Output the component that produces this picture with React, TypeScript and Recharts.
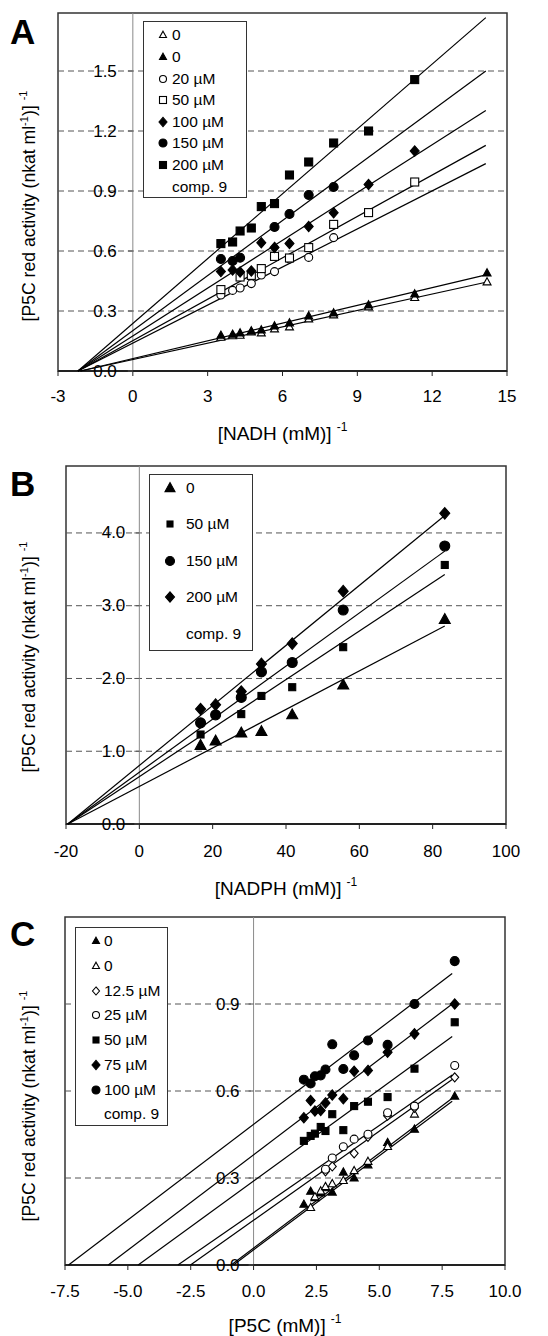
import React from "react"
import { ComposedChart, Scatter, XAxis, YAxis, ReferenceLine, ReferenceArea, ReferenceDot } from "recharts"

const FONT = "'Liberation Sans', Arial, Helvetica, sans-serif"

// ---------- panel A : 1/[NADH]
const nadhInv = [3.53, 4.0, 4.3, 4.75, 5.15, 5.68, 6.28, 7.05, 8.05, 9.45, 11.3, 14.2]
const aOpen0 = [0.168, 0.176, 0.178, 0.195, 0.19, 0.21, 0.22, 0.26, 0.28, 0.32, 0.367, 0.445]
const aFilled0 = [0.178, 0.183, 0.19, 0.2, 0.205, 0.225, 0.24, 0.275, 0.29, 0.33, 0.385, 0.49]
const a20 = [0.38, 0.403, 0.415, 0.437, 0.48, 0.497, 0.56, 0.568, 0.667, null, null, null]
const a50 = [0.407, null, 0.47, 0.478, 0.512, 0.573, 0.565, 0.617, 0.733, 0.792, 0.945, null]
const a100 = [0.497, 0.505, 0.495, 0.5, 0.641, 0.618, 0.637, 0.722, 0.791, 0.932, 1.1, null]
const a150 = [0.56, 0.55, 0.566, null, null, 0.72, 0.785, 0.88, 0.92, null, null, null]
const a200 = [0.637, 0.645, 0.7, 0.715, 0.822, 0.837, 0.98, 1.045, 1.14, 1.2, 1.457, null]
// fitted lines: [x0, y0, x1, y1]
const aFits = [
  [-2.1, 0, 14.2, 0.445],
  [-2.1, 0, 14.2, 0.482],
  [-2.2, 0, 14.15, 1.037],
  [-2.2, 0, 14.15, 1.128],
  [-2.2, 0, 14.15, 1.303],
  [-2.2, 0, 14.15, 1.5],
  [-2.2, 0, 14.15, 1.767],
]
const aXTicks = [-3, 0, 3, 6, 9, 12, 15]
const aYTicks = [0, 0.3, 0.6, 0.9, 1.2, 1.5]
const aLegend = ["0", "0", "20 µM", "50 µM", "100 µM", "150 µM", "200 µM", "comp. 9"]

// ---------- panel B : 1/[NADPH]
const nadphInv = [16.7, 20.8, 27.8, 33.3, 41.7, 55.6, 83.3]
const b0 = [1.08, 1.14, 1.25, 1.27, 1.5, 1.91, 2.81]
const b50 = [1.23, null, 1.51, 1.76, 1.88, 2.43, 3.56]
const b150 = [1.39, 1.5, 1.74, 2.09, 2.22, 2.94, 3.82]
const b200 = [1.58, 1.64, 1.82, 2.2, 2.48, 3.2, 4.27]
const bFits = [
  [-19.5, 0, 83.3, 2.72],
  [-19.5, 0, 83.3, 3.43],
  [-19.5, 0, 83.3, 3.75],
  [-19.5, 0, 83.3, 4.24],
]
const bXTicks = [-20, 0, 20, 40, 60, 80, 100]
const bYTicks = [0, 1, 2, 3, 4]
const bLegend = ["0", "50 µM", "150 µM", "200 µM", "comp. 9"]

// ---------- panel C : 1/[P5C]
const p5cInv = [2.0, 2.27, 2.44, 2.67, 2.86, 3.13, 3.57, 4.0, 4.55, 5.33, 6.4, 8.0]
const cFilled0 = [0.209, 0.254, 0.232, 0.248, 0.266, 0.251, 0.32, 0.3, 0.345, 0.422, 0.468, 0.582]
const cOpen0 = [null, 0.198, 0.235, 0.255, 0.27, 0.28, 0.291, 0.325, 0.357, 0.408, 0.52, null]
const c12 = [null, null, null, null, 0.323, 0.34, null, 0.385, 0.442, 0.515, 0.542, 0.647]
const c25 = [null, null, null, null, 0.33, 0.369, 0.408, 0.434, 0.451, 0.525, 0.548, 0.688]
const c50 = [0.428, 0.445, 0.453, 0.476, 0.462, 0.52, 0.465, 0.548, 0.563, 0.579, 0.677, 0.837]
const c75 = [0.508, 0.567, 0.531, 0.533, 0.559, 0.586, 0.573, 0.668, 0.671, 0.734, 0.797, 0.9]
const c100 = [0.639, 0.626, 0.651, 0.654, 0.674, 0.761, 0.676, 0.723, 0.774, 0.759, 0.9, 1.048]
const cFits = [
  [-0.89, 0, 7.9, 0.575],
  [-0.8, 0, 7.9, 0.565],
  [-2.51, 0, 7.9, 0.64],
  [-3.01, 0, 7.9, 0.655],
  [-4.59, 0, 7.9, 0.788],
  [-5.78, 0, 7.9, 0.9],
  [-7.36, 0, 7.9, 1.005],
]
const cXTicks = [-7.5, -5, -2.5, 0, 2.5, 5, 7.5, 10]
const cYTicks = [0, 0.3, 0.6, 0.9]
const cLegend = ["0", "0", "12.5 µM", "25 µM", "50 µM", "75 µM", "100 µM", "comp. 9"]

type Kind = "tri" | "circle" | "square" | "diamond"
interface Series { kind: Kind; filled: boolean; size: number; values: (number | null)[] }

function Marker({ cx, cy, kind, filled, size }: { cx: number; cy: number; kind: Kind; filled: boolean; size: number }) {
  const s = size / 2
  const fill = filled ? "#000" : "#fff"
  const common = { fill, stroke: "#000", strokeWidth: 1.1 }
  if (kind === "circle") return <circle cx={cx} cy={cy} r={s} {...common} />
  if (kind === "square") return <rect x={cx - s} y={cy - s} width={size} height={size} {...common} />
  if (kind === "diamond") {
    const h = s * 1.15
    return <polygon points={`${cx},${cy - h} ${cx + s},${cy} ${cx},${cy + h} ${cx - s},${cy}`} {...common} />
  }
  const h = size * 0.9
  return <polygon points={`${cx},${cy - h * 0.6} ${cx + s},${cy + h * 0.4} ${cx - s},${cy + h * 0.4}`} {...common} />
}

function XTitle({ viewBox, text, drop }: any) {
  const cx = viewBox.x + viewBox.width / 2
  return (
    <text x={cx} y={viewBox.y + drop} textAnchor="middle" fontSize={19} fontFamily={FONT} fill="#000">
      {text}
      <tspan dx={5} dy={-9} fontSize={12}>-1</tspan>
    </text>
  )
}

function YTitle({ viewBox, lift }: any) {
  const cy = viewBox.y + viewBox.height / 2 + lift
  return (
    <text transform={`translate(35, ${cy}) rotate(-90)`} textAnchor="middle" fontSize={17.6} fontFamily={FONT} fill="#000">
      [P5C red activity (nkat ml
      <tspan dy={-7} fontSize={11}>-1</tspan>
      <tspan dy={7}>)]</tspan>
      <tspan dx={5} dy={-8} fontSize={11}>-1</tspan>
    </text>
  )
}

interface LegendCfg { left: number; top: number; width: number; height: number; first: number; gap: number; markX: number; textX: number }

function LegendBox({ cfg, labels, series }: { cfg: LegendCfg; labels: string[]; series: Series[] }) {
  return (
    <div style={{ position: "absolute", left: cfg.left, top: cfg.top, width: cfg.width, height: cfg.height, border: "1px solid #333", background: "#fff", boxSizing: "border-box" }}>
      {labels.map((lab, i) => {
        const s = series[i]
        return (
          <div key={i} style={{ position: "absolute", left: 0, top: cfg.first + i * cfg.gap - 10, height: 20, width: "100%" }}>
            {s && (
              <svg width={16} height={20} style={{ position: "absolute", left: cfg.markX - 8, top: 0 }}>
                <Marker cx={8} cy={10} kind={s.kind} filled={s.filled} size={s.size - 1} />
              </svg>
            )}
            <span style={{ position: "absolute", left: cfg.textX, top: 0, lineHeight: "20px", fontSize: 15.5, fontFamily: FONT, color: "#000", whiteSpace: "nowrap" }}>{lab}</span>
          </div>
        )
      })}
    </div>
  )
}

interface PanelProps {
  top: number
  height: number
  plotLeft: number
  right: number
  bottom: number
  xDomain: [number, number]
  yDomain: [number, number]
  xTicks: number[]
  yTicks: number[]
  xFmt: (v: number) => string
  yFmt: (v: number) => string
  xs: number[]
  series: Series[]
  fits: number[][]
  xTitle: string
  titleDrop: number
  tickGap: number
  labelGap: number
  lift: number
  letter: string
  letterLeft: number
  letterTop: number
  legend: LegendCfg
  legendLabels: string[]
}

function Panel(p: PanelProps) {
  return (
    <div style={{ position: "absolute", left: 0, top: p.top, width: 548, height: p.height }}>
      <ComposedChart width={548} height={p.height} margin={{ top: 13, right: p.right, bottom: p.bottom, left: 0 }}>
        <XAxis
          type="number"
          dataKey="x"
          domain={p.xDomain}
          ticks={p.xTicks}
          allowDataOverflow
          interval={0}
          axisLine={false}
          tickLine={{ stroke: "#222" }}
          tickSize={5}
          tickMargin={p.tickGap}
          height={40}
          tickFormatter={p.xFmt}
          tick={{ fontSize: 17, fill: "#000", fontFamily: FONT }}
          label={<XTitle text={p.xTitle} drop={p.titleDrop} />}
        />
        <YAxis
          type="number"
          dataKey="y"
          domain={p.yDomain}
          allowDataOverflow
          width={p.plotLeft}
          tick={false}
          axisLine={false}
          tickLine={false}
          label={<YTitle lift={p.lift} />}
        />
        {p.yTicks.filter(v => v > 0).map(v => (
          <ReferenceLine key={`g${v}`} y={v} stroke="#555" strokeDasharray="6 4" strokeWidth={1} />
        ))}
        <ReferenceLine x={0} stroke="#8a8a8a" strokeWidth={1} />
        <ReferenceArea x1={p.xDomain[0]} x2={p.xDomain[1]} y1={p.yDomain[0]} y2={p.yDomain[1]} fill="none" stroke="#333" strokeWidth={1.5} ifOverflow="visible" />
        <ReferenceLine y={0} stroke="#222" strokeWidth={2} />
        {p.yTicks.map(v => (
          <ReferenceDot
            key={`t${v}`}
            x={0}
            y={v}
            r={0}
            ifOverflow="visible"
            shape={(d: any) => (
              <g>
                <line x1={d.cx - 5} x2={d.cx} y1={d.cy} y2={d.cy} stroke="#555" />
                <text x={d.cx - p.labelGap} y={d.cy} textAnchor="end" dominantBaseline="central" fontSize={17} fontFamily={FONT} fill="#000">
                  {p.yFmt(v)}
                </text>
              </g>
            )}
          />
        ))}
        {p.fits.map((f, i) => (
          <ReferenceLine key={`f${i}`} segment={[{ x: f[0], y: f[1] }, { x: f[2], y: f[3] }]} stroke="#000" strokeWidth={1.2} ifOverflow="visible" />
        ))}
        {p.series.map((s, i) => (
          <Scatter
            key={`s${i}`}
            data={p.xs.map((x, j) => ({ x, y: s.values[j] })).filter(d => d.y != null)}
            isAnimationActive={false}
            shape={(d: any) => <Marker cx={d.cx} cy={d.cy} kind={s.kind} filled={s.filled} size={s.size} />}
          />
        ))}
      </ComposedChart>
      <div style={{ position: "absolute", left: p.letterLeft, top: p.letterTop, fontSize: 35, lineHeight: "35px", fontWeight: "bold", fontFamily: FONT, color: "#000" }}>
        {p.letter}
      </div>
      <LegendBox cfg={p.legend} labels={p.legendLabels} series={p.series} />
    </div>
  )
}

const fmt0 = (v: number) => `${v}`
const fmt1 = (v: number) => v.toFixed(1)

export default function App() {
  const aSeries: Series[] = [
    { kind: "tri", filled: false, size: 8, values: aOpen0 },
    { kind: "tri", filled: true, size: 8, values: aFilled0 },
    { kind: "circle", filled: false, size: 8, values: a20 },
    { kind: "square", filled: false, size: 8, values: a50 },
    { kind: "diamond", filled: true, size: 9, values: a100 },
    { kind: "circle", filled: true, size: 9, values: a150 },
    { kind: "square", filled: true, size: 8, values: a200 },
  ]
  const bSeries: Series[] = [
    { kind: "tri", filled: true, size: 11, values: b0 },
    { kind: "square", filled: true, size: 7, values: b50 },
    { kind: "circle", filled: true, size: 10, values: b150 },
    { kind: "diamond", filled: true, size: 10, values: b200 },
  ]
  const cSeries: Series[] = [
    { kind: "tri", filled: true, size: 8, values: cFilled0 },
    { kind: "tri", filled: false, size: 8, values: cOpen0 },
    { kind: "diamond", filled: false, size: 8, values: c12 },
    { kind: "circle", filled: false, size: 8, values: c25 },
    { kind: "square", filled: true, size: 7, values: c50 },
    { kind: "diamond", filled: true, size: 9, values: c75 },
    { kind: "circle", filled: true, size: 9, values: c100 },
  ]
  return (
    <div style={{ position: "absolute", left: 0, top: 0, width: 548, height: 1336, background: "#fff", overflow: "hidden" }}>
      <Panel
        top={0} height={450} plotLeft={58} right={41} bottom={39}
        xDomain={[-3, 15]} yDomain={[0, 1.79]} xTicks={aXTicks} yTicks={aYTicks} xFmt={fmt0} yFmt={fmt1}
        xs={nadhInv} series={aSeries} fits={aFits} xTitle="[NADH (mM)]" titleDrop={69} tickGap={14} labelGap={16} lift={14}
        letter="A" letterLeft={10} letterTop={14}
        legend={{ left: 143, top: 21, width: 104, height: 177, first: 13.3, gap: 21.6, markX: 19, textX: 28 }}
        legendLabels={aLegend}
      />
      <Panel
        top={453} height={450} plotLeft={66} right={42} bottom={39}
        xDomain={[-20, 100]} yDomain={[0, 4.92]} xTicks={bXTicks} yTicks={bYTicks} xFmt={fmt0} yFmt={fmt1}
        xs={nadphInv} series={bSeries} fits={bFits} xTitle="[NADPH (mM)]" titleDrop={71} tickGap={16} labelGap={14} lift={12}
        letter="B" letterLeft={10} letterTop={13}
        legend={{ left: 149, top: 21, width: 104, height: 177, first: 12.7, gap: 36.5, markX: 19.5, textX: 36 }}
        legendLabels={bLegend}
      />
      <Panel
        top={904} height={432} plotLeft={65} right={43} bottom={31}
        xDomain={[-7.5, 10]} yDomain={[0, 1.2]} xTicks={cXTicks} yTicks={cYTicks} xFmt={fmt1} yFmt={fmt1}
        xs={p5cInv} series={cSeries} fits={cFits} xTitle="[P5C (mM)]" titleDrop={67} tickGap={15} labelGap={14} lift={15}
        letter="C" letterLeft={10} letterTop={12}
        legend={{ left: 75, top: 23, width: 93, height: 199, first: 13, gap: 24.75, markX: 20, textX: 28 }}
        legendLabels={cLegend}
      />
    </div>
  )
}
